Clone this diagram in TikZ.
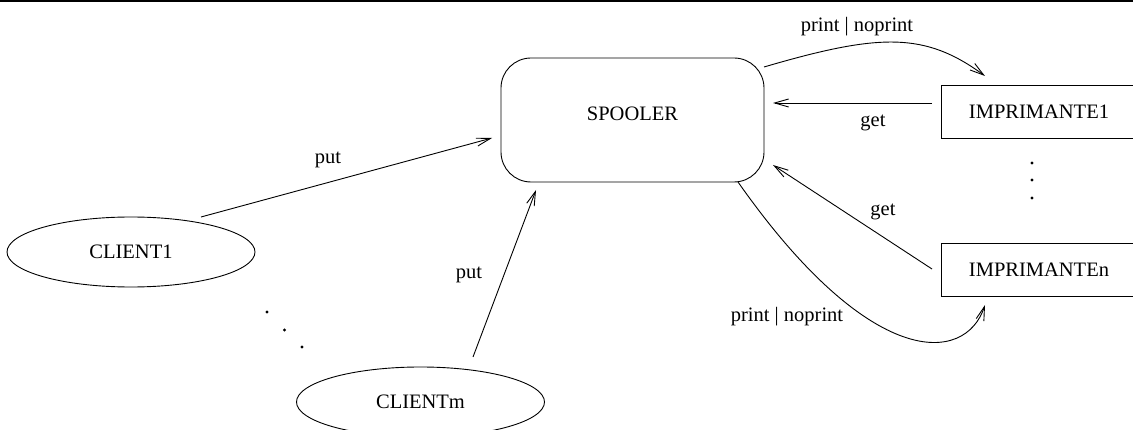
\documentclass[tikz,border=0pt]{standalone}
\usepackage{fontspec}
\setmainfont{Liberation Serif}
\usetikzlibrary{arrows.meta,shapes.geometric}

\tikzset{
  base/.style={draw, line width=0.9pt, inner sep=0pt, font=\fontsize{20.5}{24}\selectfont},
  client/.style={base, ellipse, minimum width=248pt, minimum height=70pt},
  spoolbox/.style={base, rectangle, rounded corners=30pt, minimum width=263pt, minimum height=124pt},
  printer/.style={base, rectangle, minimum width=196pt, minimum height=53pt},
  lbl/.style={inner sep=0pt, font=\fontsize{20.5}{24}\selectfont},
  msg/.style={line width=0.9pt, -{Straight Barb[length=14pt,width=8pt,line width=0.9pt]}},
  dot/.style={fill=black}
}

\begin{document}
\begin{tikzpicture}[x=1pt, y=-1pt]
  \useasboundingbox (0,0) rectangle (1133,430);
  \clip (0,0) rectangle (1133,430);

  % rule along the top
  \draw[line width=2.6pt] (0,1.2) -- (1133,1.2);

  % processes
  \node[spoolbox, text height=14pt, text depth=12pt] (spool) at (632.5,120) {SPOOLER};
  \node[client] (c1) at (131,252) {CLIENT1};
  \node[client] (cm) at (420.5,402) {CLIENTm};
  \node[printer] (imp1) at (1039,111.5) {IMPRIMANTE1};
  \node[printer] (impn) at (1039,269.5) {IMPRIMANTEn};

  % clients put into the spooler
  \draw[msg] ([shift={(70,-35)}]c1.center) -- ([shift={(-140.5,18)}]spool.center);
  \draw[msg] ([shift={(52.5,-45)}]cm.center) -- ([shift={(-96.5,70)}]spool.center);

  % printers get from the spooler
  \draw[msg] ([shift={(-107,-8.5)}]imp1.center) -- ([shift={(140.5,-17)}]spool.center);
  \draw[msg] ([shift={(-107,-0.5)}]impn.center) -- ([shift={(140.5,45)}]spool.center);

  % spooler answers print | noprint
  \draw[msg] ([shift={(131.5,-53)}]spool.center)
     .. controls (880,33) and (925,32) .. ([shift={(-54,-35.5)}]imp1.center);
  \draw[msg] ([shift={(105.5,62)}]spool.center)
     .. controls (870,370) and (965,365) .. ([shift={(-54,35.5)}]impn.center);

  % message labels
  \node[lbl] (lput1) at (328,160) {put};
  \node[lbl] (lput2) at (469,275) {put};
  \node[lbl] (lget1) at (873,123) {get};
  \node[lbl] (lget2) at (883,212) {get};
  \node[lbl] (lpr1) at (857,27) {print | noprint};
  \node[lbl] (lpr2) at (787,317) {print | noprint};

  % ellipsis between the printers
  \fill[dot] (1032,163) circle (1.6);
  \fill[dot] (1032,180) circle (1.6);
  \fill[dot] (1032,198) circle (1.6);

  % ellipsis between the clients
  \fill[dot] (267,312) circle (1.6);
  \fill[dot] (284.5,330) circle (1.6);
  \fill[dot] (302,347) circle (1.6);
\end{tikzpicture}
\end{document}
